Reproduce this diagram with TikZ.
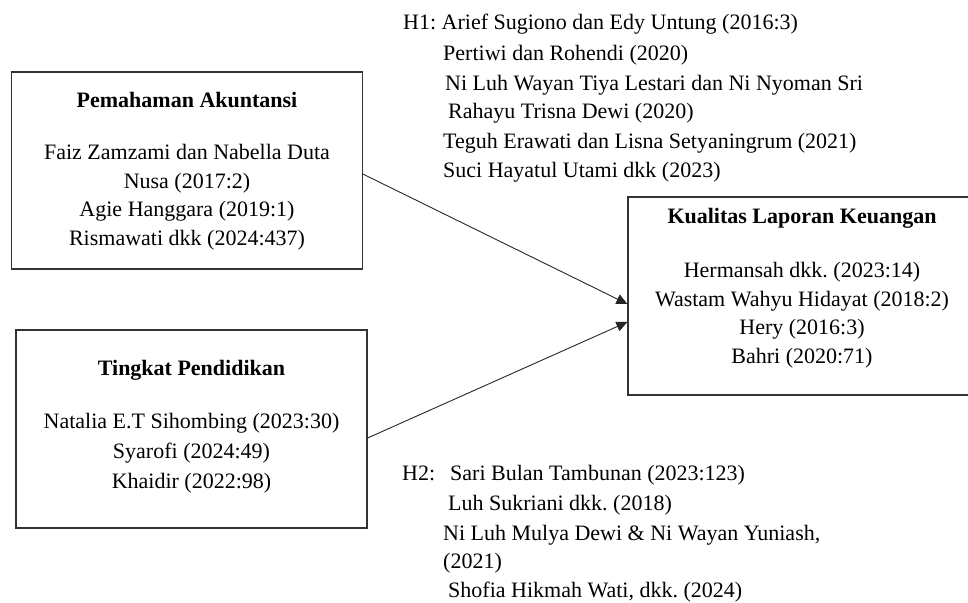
\documentclass[tikz,border=0pt]{standalone}
\usepackage{fontspec}
\setmainfont{Liberation Serif}
\usetikzlibrary{arrows.meta}
\frenchspacing

\begin{document}
\begin{tikzpicture}[x=1pt, y=-1pt, >={Triangle[length=11pt, width=10pt]},
kotak/.style={draw=black!80, line width=1.2pt, inner sep=0, rectangle},
teks/.style={inner sep=0, font=\fontsize{22}{28.5}\selectfont},
judul/.style={teks, font=\fontsize{22}{28.5}\selectfont\bfseries},
baris/.style={teks, anchor=base west},
panah/.style={->, line width=0.9pt, black!85}]

% SIZE OF THE PICTURE
\useasboundingbox (0,0) rectangle (968,602);
\clip (0,0) rectangle (968,602);

%%%%%%%%% BOXES %%%%%%%%%%%%%
% (base of a multi-line node = last line)
\node[kotak, minimum width=350.5, minimum height=197] (pemahaman) at (187,170.5) {};
\node[judul, anchor=base] (pemahaman-judul) at (187,107) {Pemahaman Akuntansi};
\node[teks, anchor=base, align=center] (pemahaman-isi) at (187,245) {Faiz Zamzami dan Nabella Duta\\Nusa (2017:2)\\Agie Hanggara (2019:1)\\Rismawati dkk (2024:437)};

\node[kotak, minimum width=351, minimum height=198] (pendidikan) at (191.5,429) {};
\node[judul, anchor=base] (pendidikan-judul) at (191.5,375) {Tingkat Pendidikan};
\node[teks, anchor=base, align=center, font=\fontsize{22}{30}\selectfont] (pendidikan-isi) at (191.5,488) {Natalia E.T Sihombing (2023:30)\\Syarofi (2024:49)\\Khaidir (2022:98)};

\node[kotak, minimum width=348, minimum height=198] (kualitas) at (802,296) {};
\node[judul, anchor=base] (kualitas-judul) at (802,223) {Kualitas Laporan Keuangan};
\node[teks, anchor=base, align=center] (kualitas-isi) at (802,363) {Hermansah dkk. (2023:14)\\Wastam Wahyu Hidayat (2018:2)\\Hery (2016:3)\\Bahri (2020:71)};

%%%%%%%%% ARROWS %%%%%%%%%%%%
\draw[panah] ([yshift=-3.5pt]pemahaman.east) -- ([yshift=-8pt]kualitas.west);
\draw[panah] ([yshift=-9pt]pendidikan.east) -- ([yshift=-26pt]kualitas.west);

%%%%%%%%% H1 %%%%%%%%%%%%%%%%
\node[baris] (h1) at (403,30) {H1: Arief Sugiono dan Edy Untung (2016:3)};
\node[baris] (h1b) at (443,60) {Pertiwi dan Rohendi (2020)};
\node[baris] (h1c) at (445,90) {Ni Luh Wayan Tiya Lestari dan Ni Nyoman Sri};
\node[baris] (h1d) at (448,118) {Rahayu Trisna Dewi (2020)};
\node[baris] (h1e) at (443,148) {Teguh Erawati dan Lisna Setyaningrum (2021)};
\node[baris] (h1f) at (443,177) {Suci Hayatul Utami dkk (2023)};

%%%%%%%%% H2 %%%%%%%%%%%%%%%%
\node[baris] (h2) at (402,480) {H2:};
\node[baris] (h2a) at (450,480) {Sari Bulan Tambunan (2023:123)};
\node[baris] (h2b) at (448,510) {Luh Sukriani dkk. (2018)};
\node[baris] (h2c) at (443,540) {Ni Luh Mulya Dewi \& Ni Wayan Yuniash,};
\node[baris] (h2d) at (443,568) {(2021)};
\node[baris] (h2e) at (448,597) {Shofia Hikmah Wati, dkk. (2024)};
\end{tikzpicture}
\end{document}
